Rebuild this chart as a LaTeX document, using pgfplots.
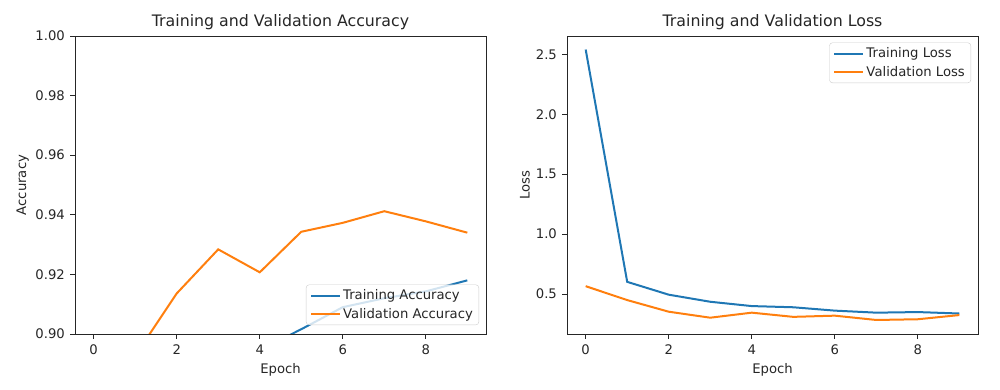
\documentclass[border=0pt]{standalone}
\usepackage{pgfplots}
\pgfplotsset{compat=1.18}
\usepackage{fontspec}
\setmainfont{DejaVu Sans}
\definecolor{C0}{HTML}{1F77B4}
\definecolor{C1}{HTML}{FF7F0E}
\definecolor{txt}{HTML}{262626}
\pgfplotsset{
 mpl/.style={
  scale only axis, width=411pt, height=298pt,
  axis line style={line width=0.9pt, black!85},
  tick align=outside, xtick pos=bottom, ytick pos=left,
  major tick length=4.6pt, tick style={line width=0.9pt, black!85},
  tick label style={font=\fontsize{13.2}{15}\selectfont, text=txt},
  xticklabel style={yshift=-3pt},
  yticklabel style={xshift=-2pt},
  /pgf/number format/assume math mode=true,
  label style={font=\fontsize{13.2}{15}\selectfont, text=txt},
  title style={font=\fontsize{15.8}{18}\selectfont, text=txt, at={(0.5,1)}, anchor=south, inner sep=0pt, yshift=0pt},
  xmin=-0.45, xmax=9.45, xtick={0,2,4,6,8},
  xlabel=Epoch,
  xlabel style={at={(axis description cs:0.5,-0.1141)}, anchor=center, yshift=-1.5pt},
  every axis plot/.append style={line width=2pt, mark=none},
  legend style={draw=black!20, rounded corners=3pt, fill=white, fill opacity=0.8, text opacity=1,
    font=\fontsize{13.2}{15}\selectfont, text=txt, inner xsep=4pt, inner ysep=3pt, row sep=3pt,
    cells={anchor=west}},
  legend image code/.code={\draw[#1] (0pt,0pt) -- (29pt,0pt);},
 }
}
\begin{document}
\begin{tikzpicture}[x=1pt,y=1pt]
\useasboundingbox (0,0) rectangle (1000,389);
\begin{axis}[mpl, at={(75pt,55pt)},
  title={Training and Validation Accuracy},
  ylabel=Accuracy,
  ylabel style={at={(axis description cs:-0.1273,0.5)}, anchor=center},
  ymin=0.90, ymax=1.00, ytick={0.90,0.92,0.94,0.96,0.98,1.00},
  yticklabel style={/pgf/number format/.cd, fixed, fixed zerofill, precision=2},
  legend style={at={(0.983,0.03)}, anchor=south east},
]
\addplot[C0] coordinates {(0,0.62) (1,0.84) (2,0.868) (3,0.883) (4,0.8946) (5,0.9016) (6,0.9090) (7,0.9120) (8,0.9143) (9,0.9180)};
\addlegendentry{Training Accuracy}
\addplot[C1] coordinates {(0,0.860) (1,0.8927) (2,0.9136) (3,0.9284) (4,0.9207) (5,0.9343) (6,0.9373) (7,0.9412) (8,0.9378) (9,0.9340)};
\addlegendentry{Validation Accuracy}
\end{axis}
\begin{axis}[mpl, at={(567pt,55pt)},
  title={Training and Validation Loss},
  ylabel=Loss,
  ylabel style={at={(axis description cs:-0.1022,0.5)}, anchor=center},
  ymin=0.167, ymax=2.653, ytick={0.5,1.0,1.5,2.0,2.5},
  yticklabel style={/pgf/number format/.cd, fixed, fixed zerofill, precision=1},
  legend style={at={(0.983,0.978)}, anchor=north east},
]
\addplot[C0] coordinates {(0,2.54) (1,0.602) (2,0.495) (3,0.436) (4,0.400) (5,0.390) (6,0.362) (7,0.345) (8,0.350) (9,0.338)};
\addlegendentry{Training Loss}
\addplot[C1] coordinates {(0,0.566) (1,0.450) (2,0.353) (3,0.303) (4,0.345) (5,0.310) (6,0.320) (7,0.284) (8,0.290) (9,0.325)};
\addlegendentry{Validation Loss}
\end{axis}
\end{tikzpicture}
\end{document}
